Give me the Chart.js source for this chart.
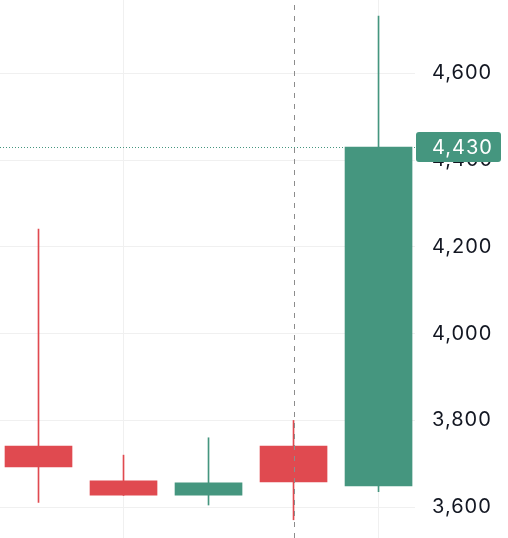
<!DOCTYPE html>
<html>
<head>
<meta charset="utf-8">
<script src="https://cdn.jsdelivr.net/npm/chart.js@4.4.1/dist/chart.umd.min.js"></script>
<style>
    html, body { margin: 0; padding: 0; background: #ffffff; }
    #wrap { width: 508px; height: 538px; }
</style>
</head>
<body>
<div id="wrap"><canvas id="chart"></canvas></div>
<script>
// Candle data
const candleIndex = [0, 1, 2, 3, 4];
const opens  = [3741, 3661, 3628, 3741, 3649];
const closes = [3693, 3628, 3656, 3658, 4430];
const highs  = [4241, 3720, 3760, 3800, 4732];
const lows   = [3611, 3627, 3605, 3571, 3636];
const yTicks = [3600, 3800, 4000, 4200, 4400, 4600];
const xGridAt = [1, 4];
const crosshairAt = 3;
const lastPrice = 4430;

const UP = '#45967f';
const DOWN = '#e04a50';
const candleColors = candleIndex.map(i => closes[i] >= opens[i] ? UP : DOWN);

const fmt = v => v.toLocaleString('en-US');

// Crosshair, last price line and price label
const overlayPlugin = {
    id: 'overlay',
    beforeDraw(chart) {
        chart.ctx.letterSpacing = '1px';
    },
    afterDatasetsDraw(chart) {
        const { ctx, chartArea, scales } = chart;
        const x = scales.x.getPixelForValue(crosshairAt);
        const y = scales.y.getPixelForValue(lastPrice);
        ctx.save();
        // vertical dashed crosshair
        ctx.strokeStyle = '#8c8c8c';
        ctx.lineWidth = 1;
        ctx.setLineDash([5, 6]);
        ctx.beginPath();
        ctx.moveTo(Math.round(x) + 0.5, chartArea.top + 5);
        ctx.lineTo(Math.round(x) + 0.5, chartArea.bottom);
        ctx.stroke();
        // dotted last price line
        ctx.strokeStyle = UP;
        ctx.setLineDash([1, 2]);
        ctx.beginPath();
        ctx.moveTo(chartArea.left, Math.round(y) + 0.5);
        ctx.lineTo(chartArea.right, Math.round(y) + 0.5);
        ctx.stroke();
        ctx.restore();
    },
    afterDraw(chart) {
        const { ctx, chartArea, scales } = chart;
        const y = scales.y.getPixelForValue(lastPrice);
        ctx.save();
        ctx.fillStyle = UP;
        ctx.beginPath();
        ctx.roundRect(chartArea.right + 1, y - 15, 85, 30, 3);
        ctx.fill();
        ctx.fillStyle = '#ffffff';
        ctx.font = '20px Inter';
        ctx.textBaseline = 'middle';
        ctx.fillText(fmt(lastPrice), chartArea.right + 17, y + 1);
        ctx.restore();
    }
};

const ctx = document.getElementById('chart').getContext('2d');
const chart = new Chart(ctx, {
    type: 'bar',
    data: {
        datasets: [{
            label: 'body',
            data: candleIndex.map(i => ({ x: i, y: [opens[i], closes[i]] })),
            backgroundColor: candleColors,
            barThickness: 67,
            grouped: false,
            order: 0
        }, {
            label: 'wick',
            data: candleIndex.map(i => ({ x: i, y: [lows[i], highs[i]] })),
            backgroundColor: candleColors,
            barThickness: 1,
            grouped: false,
            order: 1
        }]
    },
    options: {
        responsive: true,
        maintainAspectRatio: false,
        animation: false,
        layout: { padding: 0 },
        plugins: {
            legend: { display: false },
            tooltip: { enabled: false }
        },
        scales: {
            x: {
                type: 'linear',
                offset: false,
                min: -0.453,
                max: 4.429,
                grid: { color: '#f0f0f0', drawTicks: false, offset: false },
                border: { display: false },
                ticks: { display: false },
                afterBuildTicks: axis => { axis.ticks = xGridAt.map(v => ({ value: v })); },
                afterFit: axis => { axis.height = 0; axis.paddingLeft = 0; axis.paddingRight = 0; }
            },
            y: {
                position: 'right',
                min: 3529,
                max: 4769,
                grid: { color: '#f0f0f0', drawTicks: false },
                border: { display: false },
                ticks: {
                    padding: 17,
                    color: '#131722',
                    font: { family: 'Inter', size: 20 },
                    callback: v => fmt(v)
                },
                afterBuildTicks: axis => { axis.ticks = yTicks.map(v => ({ value: v })); },
                afterFit: axis => { axis.width = 93; axis.paddingTop = 0; axis.paddingBottom = 0; }
            }
        }
    },
    plugins: [overlayPlugin]
});
</script>
</body>
</html>
